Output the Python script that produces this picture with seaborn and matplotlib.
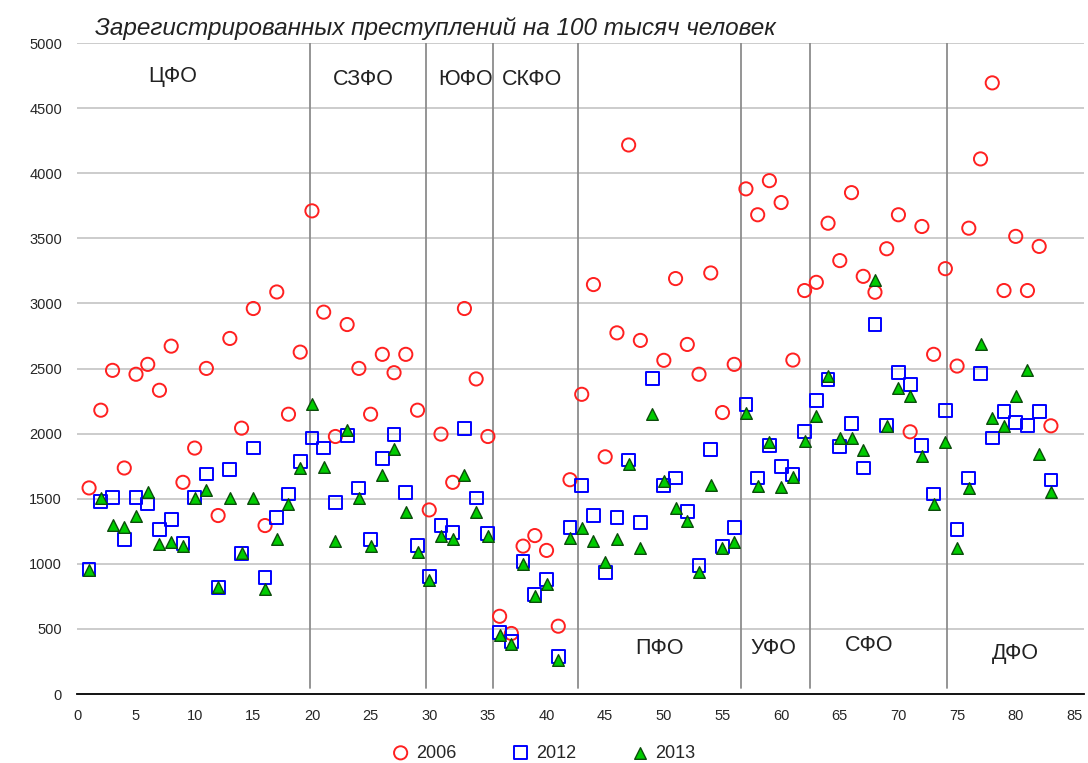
import numpy as np
import pandas as pd
import matplotlib
matplotlib.use("Agg")
import matplotlib.pyplot as plt
import seaborn as sns

# номера регионов 1..83
regions = list(range(1, 84))

crime_2006 = [1583, 2180, 2486, 1736, 2456, 2532, 2333, 2672, 1626, 1889,
              2501, 1371, 2731, 2042, 2961, 1294, 3088, 2149, 2626, 3711,
              2933, 1978, 2838, 2501, 2149, 2609, 2468, 2609, 2180, 1414,
              1996, 1626, 2961, 2420, 1978, 597, 465, 1136, 1217, 1103,
              521, 1646, 2302, 3145, 1822, 2774, 4217, 2716, np.nan, 2563,
              3191, 2685, 2456, 3234, 2162, 2532, 3880, 3681, 3943, 3775,
              2565, 3099, 3162, 3616, 3329, 3851, 3208, 3086, 3420, 3681,
              2014, 3591, 2609, 3267, 2519, 3578, 4110, 4694, 3099, 3515,
              3099, 3438, 2060]

crime_2012 = [955, 1478, 1508, 1185, 1508, 1460, 1261, 1338, 1154, 1508,
              1690, 817, 1723, 1082, 1889, 894, 1358, 1537, 1784, 1966,
              1889, 1473, 1983, 1583, 1185, 1812, 1996, 1549, 1141, 904,
              1294, 1243, 2042, 1506, 1230, 470, 401, 1018, 766, 878,
              291, 1276, 1600, 1371, 936, 1353, 1797, 1319, 2425, 1600,
              1659, 1401, 988, 1876, 1133, 1276, 2226, 1659, 1907, 1748,
              1685, 2014, 2256, 2417, 1899, 2077, 1736, 2838, 2065, 2468,
              2379, 1907, 1537, 2180, 1261, 1659, 2460, 1966, 2167, 2085,
              2060, 2169, 1644]

crime_2013 = [955, 1503, 1302, 1286, 1365, 1549, 1154, 1166, 1136, 1506,
              1567, 822, 1506, 1082, 1503, 809, 1192, 1460, 1736, 2226,
              1746, 1179, 2027, 1503, 1136, 1685, 1881, 1396, 1090, 873,
              1210, 1192, 1685, 1396, 1217, 457, 388, 1001, 750, 848,
              260, 1197, 1274, 1179, 1013, 1192, 1766, 1120, 2149, 1639,
              1427, 1332, 936, 1606, 1120, 1166, 2162, 1600, 1932, 1587,
              1669, 1940, 2136, 2443, 1970, 1970, 1874, 3183, 2060, 2353,
              2289, 1830, 1460, 1932, 1120, 1583, 2685, 2119, 2060, 2289,
              2486, 1843, 1549]

# федеральные округа: границы и подписи
district_bounds = [19.8, 29.7, 35.4, 42.7, 56.6, 62.5, 74.1]
district_names = ["ЦФО", "СЗФО", "ЮФО", "СКФО", "ПФО", "УФО", "СФО", "ДФО"]
district_label_x = [8.1, 24.4, 33.1, 38.8, 49.6, 59.3, 67.5, 80.0]
district_label_y = [4740, 4720, 4720, 4720, 350, 350, 370, 310]

df = pd.DataFrame({"region": regions, "2006": crime_2006,
                   "2012": crime_2012, "2013": crime_2013})

sns.set_style("white")
plt.rcParams["font.family"] = ["Liberation Sans", "DejaVu Sans"]

fig = plt.figure(figsize=(10.88, 7.63), dpi=100)
ax = fig.add_axes([0.0711, 0.0904, 0.925, 0.8532])

for yv in range(500, 5001, 500):
    ax.axhline(yv, color="#c8c8c8", lw=1.3, zorder=0)
for xb in district_bounds:
    ax.axvline(xb, ymin=0.01, ymax=1, color="#8c8c8c", lw=1.3, zorder=1)

sns.scatterplot(data=df, x="region", y="2006", ax=ax, marker="o", s=90,
                facecolor="none", edgecolor="#ff2020", linewidth=1.4,
                label="2006", zorder=3)
sns.scatterplot(data=df, x="region", y="2012", ax=ax, marker="s", s=85,
                facecolor="none", edgecolor="#0000ff", linewidth=1.4,
                label="2012", zorder=4)
sns.scatterplot(data=df, x="region", y="2013", ax=ax, marker="^", s=70,
                color="#00cc00", edgecolor="#0b4d0b", linewidth=1.0,
                label="2013", zorder=5)

for name, lx, ly in zip(district_names, district_label_x, district_label_y):
    ax.text(lx, ly, name, ha="center", va="center", fontsize=15.5, color="#222222")

ax.set_xlim(0, 85.8)
ax.set_ylim(0, 5000)
ax.set_xticks(range(0, 86, 5))
ax.set_yticks(range(0, 5001, 500))
ax.tick_params(axis="x", direction="out", length=5, width=1.2, color="black",
               labelsize=10.5, pad=6)
ax.tick_params(axis="y", length=0, labelsize=10.5, pad=11)
ax.set_xlabel("")
ax.set_ylabel("")
for side in ["top", "right", "left"]:
    ax.spines[side].set_visible(False)
ax.spines["bottom"].set_color("black")
ax.spines["bottom"].set_linewidth(1.3)

fig.text(0.087, 0.963, "Зарегистрированных преступлений на 100 тысяч человек",
         fontsize=17.5, style="italic", ha="left", va="center", color="#222222")

handles, labels = ax.get_legend_handles_labels()
ax.legend_.remove()
fig.legend(handles, labels, loc="center", bbox_to_anchor=(0.5, 0.013), ncol=3,
           frameon=False, fontsize=13, handlelength=0.9, handletextpad=0.4,
           columnspacing=3.1)

fig.savefig("out.png", dpi=100)
